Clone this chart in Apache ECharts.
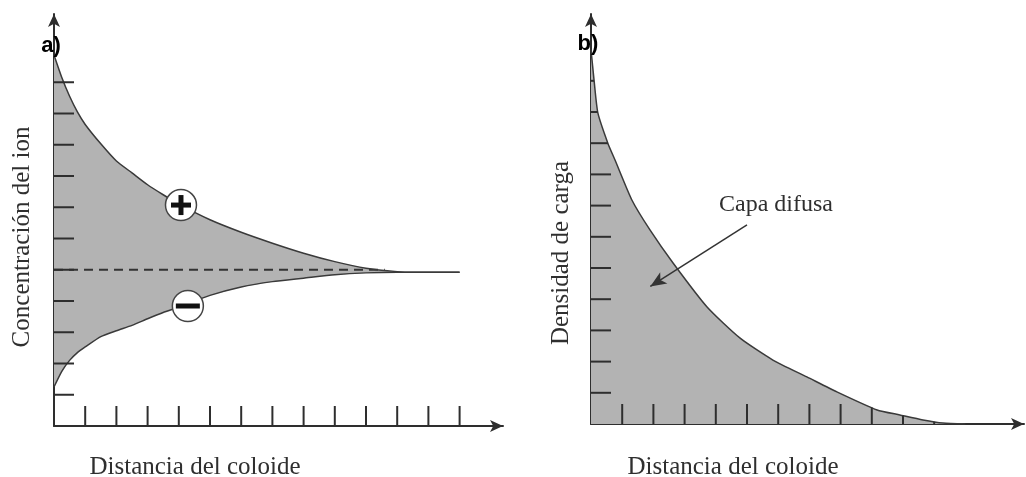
<!DOCTYPE html>
<html>
<head>
<meta charset="utf-8">
<script src="https://cdn.jsdelivr.net/npm/echarts@6/dist/echarts.min.js"></script>
<style>html,body{margin:0;padding:0;background:#fff;}#c{width:1026px;height:477px;}</style>
</head>
<body>
<div id="c"></div>
<script>
// ---- data ----
const leftX     = [0, 0.25, 0.5, 0.75, 1, 1.5, 2, 2.5, 3, 3.5, 4, 5, 6, 7, 8, 9, 10, 11, 11.5, 13];
const leftUpper = [11.87, 11.15, 10.55, 10.05, 9.65, 9.03, 8.48, 8.1, 7.72, 7.4, 7.1, 6.6, 6.2, 5.85, 5.53, 5.26, 5.05, 4.94, 4.92, 4.92];
const leftLower = [1.25, 1.75, 2.1, 2.35, 2.53, 2.86, 3.05, 3.22, 3.43, 3.63, 3.8, 4.18, 4.45, 4.62, 4.73, 4.84, 4.9, 4.92, 4.92, 4.92];
const refLevel  = [[0, 5], [10.6, 5]];
const ionMarkers = [[4.07, 7.07], [4.29, 3.84]];
const ionSigns   = ['+', '-'];

const rightX = [0, 0.1, 0.22, 0.54, 0.77, 1.31, 1.89, 2.63, 3.72, 4.78, 5.83, 6.92, 7.88, 9.17, 9.9, 10.64, 11.28, 12.0];
const rightY = [12.0, 11.0, 9.97, 9.0, 8.46, 7.18, 6.22, 5.16, 3.75, 2.75, 2.05, 1.51, 1.03, 0.45, 0.29, 0.13, 0.03, 0];

const xTickValues = [1, 2, 3, 4, 5, 6, 7, 8, 9, 10, 11, 12, 13];
const yTickValues = [1, 2, 3, 4, 5, 6, 7, 8, 9, 10, 11];

const titleA = 'a)', titleB = 'b)';
const yNameA = 'Concentración del ion';
const yNameB = 'Densidad de carga';
const xName  = 'Distancia del coloide';
const noteB  = 'Capa difusa';

// ---- helpers ----
function interp(xs, ys, x) {
  if (x <= xs[0]) return ys[0];
  for (let i = 0; i < xs.length - 1; i++) {
    if (x >= xs[i] && x <= xs[i + 1]) {
      const t = (x - xs[i]) / (xs[i + 1] - xs[i]);
      return ys[i] + t * (ys[i + 1] - ys[i]);
    }
  }
  return ys[ys.length - 1];
}
function invInterp(xs, ys, v) {
  if (v >= ys[0]) return xs[0];
  for (let i = 0; i < ys.length - 1; i++) {
    if (v <= ys[i] && v >= ys[i + 1]) {
      const t = (ys[i] - v) / (ys[i] - ys[i + 1]);
      return xs[i] + t * (xs[i + 1] - xs[i]);
    }
  }
  return xs[xs.length - 1];
}

const AX = '#2e2e2e', CURVE = '#3a3a3a', FILL = '#b3b3b3';
const TICK = 20;

function xTickSeries(gi, clip) {
  return {
    type: 'custom', xAxisIndex: gi, yAxisIndex: gi, z: 5, silent: true,
    data: xTickValues.map(v => [v, 0]),
    renderItem: function (params, api) {
      const v = api.value(0);
      const p0 = api.coord([v, 0]);
      let top = p0[1] - TICK;
      if (clip) {
        const c = api.coord([v, v >= rightX[rightX.length - 1] ? 0 : interp(rightX, rightY, v)]);
        top = Math.max(top, c[1]);
      }
      if (top >= p0[1]) return null;
      return { type: 'line', shape: { x1: p0[0], y1: p0[1], x2: p0[0], y2: top },
               style: { stroke: AX, lineWidth: 2 } };
    }
  };
}
function yTickSeries(gi, clip) {
  return {
    type: 'custom', xAxisIndex: gi, yAxisIndex: gi, z: 5, silent: true,
    data: yTickValues.map(v => [0, v]),
    renderItem: function (params, api) {
      const v = api.value(1);
      const p0 = api.coord([0, v]);
      let right = p0[0] + TICK;
      if (clip) {
        const c = api.coord([invInterp(rightX, rightY, v), v]);
        right = Math.min(right, c[0]);
      }
      if (right <= p0[0]) return null;
      return { type: 'line', shape: { x1: p0[0], y1: p0[1], x2: right, y2: p0[1] },
               style: { stroke: AX, lineWidth: 2 } };
    }
  };
}

function axisBase(extra) {
  return Object.assign({
    type: 'value', min: 0,
    axisLine: { show: true, symbol: ['none', 'arrow'], symbolSize: [9, 13],
                lineStyle: { color: AX, width: 2 } },
    axisTick: { show: false }, axisLabel: { show: false }, splitLine: { show: false }
  }, extra);
}

const chart = echarts.init(document.getElementById('c'), null, { renderer: 'canvas' });

const serif = '"Liberation Serif", "DejaVu Serif", serif';
function txt(x, y, text, size, rot) {
  return {
    type: 'text', x: x, y: y, rotation: rot || 0, z: 20,
    style: { text: text, fontSize: size, fontFamily: serif, fill: '#2f2f2f',
             align: 'center', verticalAlign: 'middle', textAlign: 'center', textVerticalAlign: 'middle' }
  };
}
function lineSeries(gi, data, extra) {
  return Object.assign({
    type: 'line', xAxisIndex: gi, yAxisIndex: gi, z: 4, data: data,
    symbol: 'none', smooth: 0.2,
    lineStyle: { color: CURVE, width: 1.5, join: 'round' }
  }, extra || {});
}

chart.setOption({
  animation: false,
  backgroundColor: '#ffffff',
  grid: [
    { left: 54, top: 14, width: 449, height: 412 },
    { left: 591, top: 14, width: 433, height: 410 }
  ],
  xAxis: [
    axisBase({ gridIndex: 0, max: 449 / 31.2 }),
    axisBase({ gridIndex: 1, max: 433 / 31.2 })
  ],
  yAxis: [
    axisBase({ gridIndex: 0, max: 412 / 31.25 }),
    axisBase({ gridIndex: 1, max: 410 / 31.2 })
  ],
  series: [
    // left: band fill between the two ion curves
    {
      type: 'custom', xAxisIndex: 0, yAxisIndex: 0, z: 2, silent: true,
      data: [[0, 0]],
      renderItem: function (params, api) {
        const pts = [];
        for (let i = 0; i < leftX.length; i++) pts.push(api.coord([leftX[i], leftUpper[i]]));
        for (let i = leftX.length - 1; i >= 0; i--) pts.push(api.coord([leftX[i], leftLower[i]]));
        return { type: 'polygon', shape: { points: pts }, style: { fill: FILL } };
      }
    },
    lineSeries(0, leftX.map((x, i) => [x, leftUpper[i]])),
    lineSeries(0, leftX.map((x, i) => [x, leftLower[i]])),
    {
      type: 'line', xAxisIndex: 0, yAxisIndex: 0, z: 3, data: refLevel,
      symbol: 'none', lineStyle: { color: '#333', width: 2, type: [9, 6] }
    },
    xTickSeries(0, false),
    yTickSeries(0, false),
    {
      type: 'custom', xAxisIndex: 0, yAxisIndex: 0, z: 8, silent: true,
      data: ionMarkers,
      renderItem: function (params, api) {
        const p = api.coord([api.value(0), api.value(1)]);
        const sign = ionSigns[params.dataIndex];
        const children = [
          { type: 'circle', shape: { cx: p[0], cy: p[1], r: 15.5 },
            style: { fill: '#fff', stroke: '#444', lineWidth: 1.5 } }
        ];
        if (sign === '+') {
          children.push({ type: 'rect', shape: { x: p[0] - 10, y: p[1] - 2.5, width: 20, height: 5 }, style: { fill: '#111' } });
          children.push({ type: 'rect', shape: { x: p[0] - 2.5, y: p[1] - 10, width: 5, height: 20 }, style: { fill: '#111' } });
        } else {
          children.push({ type: 'rect', shape: { x: p[0] - 12, y: p[1] - 2.5, width: 24, height: 5 }, style: { fill: '#111' } });
        }
        return { type: 'group', children: children };
      }
    },
    // right: charge density
    lineSeries(1, rightX.map((x, i) => [x, rightY[i]]), {
      z: 3,
      areaStyle: { color: FILL, opacity: 1 },
      markLine: {
        silent: true, symbol: ['none', 'arrow'], symbolSize: [10, 16],
        label: { show: false }, z: 9,
        lineStyle: { color: '#333', width: 1.5, type: 'solid' },
        data: [[{ coord: [5.0, 6.38] }, { coord: [1.9, 4.41] }]]
      }
    }),
    xTickSeries(1, true),
    yTickSeries(1, true)
  ],
  graphic: [
    txt(22, 237, yNameA, 25, Math.PI / 2),
    txt(195, 467, xName, 25, 0),
    txt(561, 253, yNameB, 25, Math.PI / 2),
    txt(733, 467, xName, 25, 0),
    txt(776, 205, noteB, 24, 0),
    {
      type: 'text', x: 51, y: 46, z: 20,
      style: { text: titleA, fontSize: 22, fontWeight: 'bold', fontFamily: '"Liberation Sans", Arial, sans-serif',
               fill: '#000', align: 'center', verticalAlign: 'middle', textAlign: 'center', textVerticalAlign: 'middle' }
    },
    {
      type: 'text', x: 588, y: 44, z: 20,
      style: { text: titleB, fontSize: 22, fontWeight: 'bold', fontFamily: '"Liberation Sans", Arial, sans-serif',
               fill: '#000', align: 'center', verticalAlign: 'middle', textAlign: 'center', textVerticalAlign: 'middle' }
    }
  ]
});
</script>
</body>
</html>
